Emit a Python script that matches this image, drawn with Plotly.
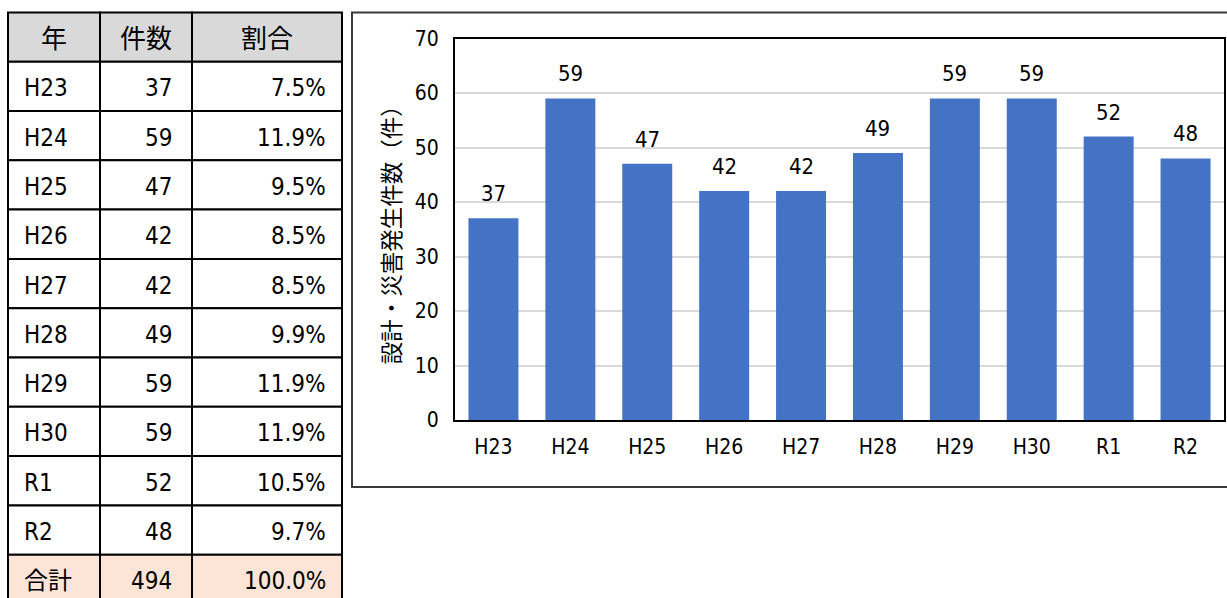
import plotly.graph_objects as go

# --- data ---------------------------------------------------------------
years = ["H23", "H24", "H25", "H26", "H27", "H28", "H29", "H30", "R1", "R2"]
counts = [37, 59, 47, 42, 42, 49, 59, 59, 52, 48]
shares = ["7.5%", "11.9%", "9.5%", "8.5%", "8.5%", "9.9%", "11.9%", "11.9%", "10.5%", "9.7%"]
total_label = "合計"
total_share = "100.0%"
header_labels = ["年", "件数", "割合"]
y_title = "設計・災害発生件数（件）"

W, H = 1227, 598
FONT = "DejaVu Sans Condensed, Noto Sans CJK JP, sans-serif"
BAR_BLUE = "#4472c4"

fig = go.Figure()


def px_x(p):
    return p / W


def px_y(p):
    return 1 - p / H


# --- summary table (drawn as cells in paper space) ---------------------
col_edges = [8, 100, 192, 342]          # column borders, px from left
table_top = 12.5
header_h = 49.2
row_h = 49.3
col_align = ["left", "right", "right"]
col_pad = [14, 18, 14]

rows = [header_labels] + [
    [y, str(c), s] for y, c, s in zip(years, counts, shares)
] + [[total_label, str(sum(counts)), total_share]]

for r, row in enumerate(rows):
    if r == 0:
        y0, y1 = table_top, table_top + header_h
        fill, size = "#d9d9d9", 26
    else:
        y0 = table_top + header_h + (r - 1) * row_h
        y1 = y0 + row_h
        fill = "#fce4d6" if r == len(rows) - 1 else "white"
        size = 24
    for c, text in enumerate(row):
        xl, xr = col_edges[c], col_edges[c + 1]
        fig.add_shape(type="rect", xref="paper", yref="paper",
                      x0=px_x(xl), x1=px_x(xr), y0=px_y(y1), y1=px_y(y0),
                      fillcolor=fill, line=dict(color="black", width=2),
                      layer="below")
        if r == 0:
            ax, anchor = (xl + xr) / 2, "center"
        elif col_align[c] == "left":
            ax, anchor = xl + col_pad[c], "left"
        else:
            ax, anchor = xr - col_pad[c], "right"
        fig.add_annotation(
            x=px_x(ax), y=px_y((y0 + y1) / 2 + 2), xref="paper", yref="paper",
            text=text, showarrow=False, xanchor=anchor, yanchor="middle",
            font=dict(family=FONT, size=size, color="black"),
        )

# --- bar chart ---------------------------------------------------------
fig.add_trace(go.Bar(
    x=years, y=counts,
    marker=dict(color=BAR_BLUE, line=dict(width=0)),
    showlegend=False,
    hoverinfo="x+y",
))

for yr, c in zip(years, counts):
    fig.add_annotation(
        x=yr, y=c, xref="x", yref="y",
        text=str(c), showarrow=False,
        yanchor="bottom", yshift=10,
        font=dict(family=FONT, size=22, color="black"),
    )

# chart frame
fig.add_shape(type="rect", xref="paper", yref="paper",
              x0=px_x(352), x1=1.01, y0=px_y(487), y1=px_y(12.5),
              line=dict(color="#3a3a3a", width=2), fillcolor="rgba(0,0,0,0)",
              layer="below")

fig.update_layout(
    width=W, height=H, autosize=False,
    margin=dict(l=0, r=0, t=0, b=0, autoexpand=False),
    paper_bgcolor="white", plot_bgcolor="white",
    bargap=0.35,
    font=dict(family=FONT, color="black"),
    xaxis=dict(
        domain=[px_x(455), px_x(1224)], automargin=False,
        showline=True, linecolor="black", linewidth=2, mirror=True,
        showgrid=False, ticks="", ticklabelstandoff=7,
        tickfont=dict(family=FONT, size=21, color="black"),
        fixedrange=True,
    ),
    yaxis=dict(
        domain=[px_y(420), px_y(38.5)], automargin=False,
        range=[0, 70], dtick=10,
        showline=True, linecolor="black", linewidth=2, mirror=True,
        showgrid=True, gridcolor="#d9d9d9", gridwidth=2,
        zeroline=False, ticks="", ticklabelstandoff=10,
        tickfont=dict(family=FONT, size=21, color="black"),
        title=dict(text=y_title, standoff=8,
                   font=dict(family=FONT, size=22.5, color="black")),
        fixedrange=True,
    ),
)

fig.write_html("out.html")
